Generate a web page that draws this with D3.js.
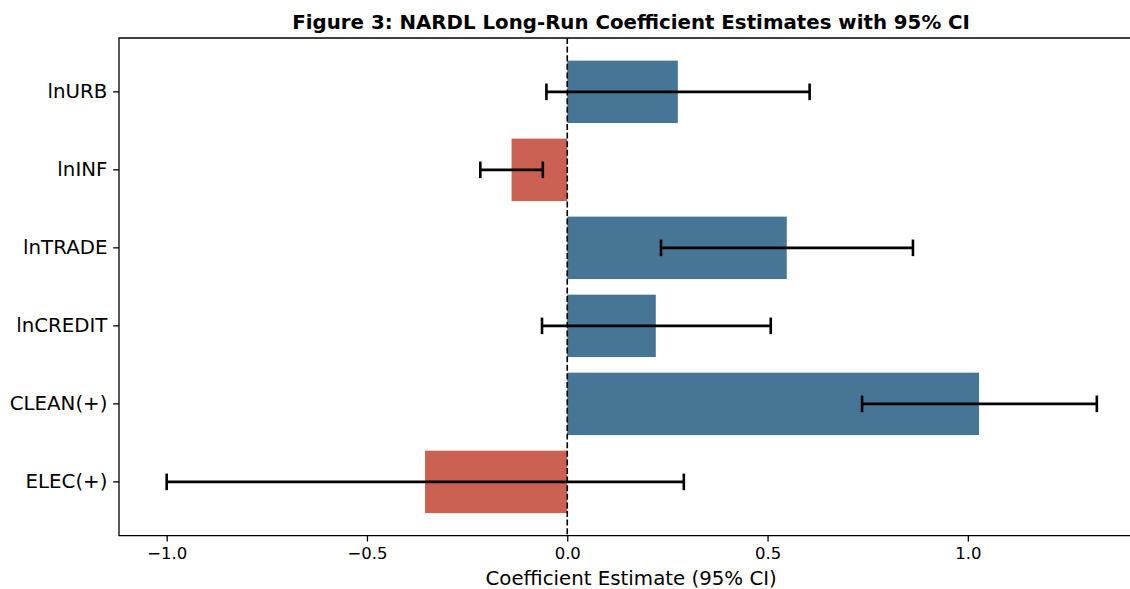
<!DOCTYPE html>
<html>
<head>
<meta charset="utf-8">
<script src="https://cdn.jsdelivr.net/npm/d3@7"></script>
<style>
  body { margin: 0; background: #fff; overflow: hidden; }
  svg { display: block; font-family: "DejaVu Sans", sans-serif; }
</style>
</head>
<body>
<div id="chart"></div>
<script>
// Long-run coefficients with 95% CI
const variables = ["lnURB", "lnINF", "lnTRADE", "lnCREDIT", "CLEAN(+)", "ELEC(+)"];
const estimates = [0.276, -0.139, 0.548, 0.221, 1.028, -0.355];
const ciLower = [-0.052, -0.217, 0.234, -0.063, 0.736, -1.0];
const ciUpper = [0.605, -0.061, 0.863, 0.508, 1.322, 0.291];
const xTicks = [-1.0, -0.5, 0.0, 0.5, 1.0];

const width = 1130, height = 589;
const plot = { left: 119, top: 38, right: 1143.3, bottom: 535.7 };

const posColor = "#477596";
const negColor = "#cb6153";

const svg = d3.select("#chart").append("svg")
    .attr("width", width)
    .attr("height", height);

const x = d3.scaleLinear()
    .domain([-1.119, 1.438])
    .range([plot.left, plot.right]);

const y = d3.scaleBand()
    .domain(variables)
    .range([plot.top, plot.bottom])
    .paddingInner(0.2)
    .paddingOuter(0.29);

const rows = variables.map((v, i) => ({
    name: v, est: estimates[i], lo: ciLower[i], hi: ciUpper[i]
}));

// Bars
svg.append("g").selectAll("rect")
    .data(rows)
    .enter()
    .append("rect")
    .attr("x", d => x(Math.min(0, d.est)))
    .attr("width", d => Math.abs(x(d.est) - x(0)))
    .attr("y", d => y(d.name))
    .attr("height", y.bandwidth())
    .attr("fill", d => d.est >= 0 ? posColor : negColor);

// Zero reference line
svg.append("line")
    .attr("x1", x(0)).attr("x2", x(0))
    .attr("y1", plot.top).attr("y2", plot.bottom)
    .attr("stroke", "#000")
    .attr("stroke-width", 1.6)
    .attr("stroke-dasharray", "6,2.6");

// Error bars
const capHalf = 8.3;
const err = svg.append("g")
    .attr("stroke", "#000")
    .attr("stroke-width", 2.6)
    .selectAll("g")
    .data(rows)
    .enter()
    .append("g");

err.append("line")
    .attr("x1", d => x(d.lo)).attr("x2", d => x(d.hi))
    .attr("y1", d => y(d.name) + y.bandwidth() / 2)
    .attr("y2", d => y(d.name) + y.bandwidth() / 2);

err.selectAll(".cap")
    .data(d => [[d.lo, d.name], [d.hi, d.name]])
    .enter()
    .append("line")
    .attr("class", "cap")
    .attr("x1", d => x(d[0])).attr("x2", d => x(d[0]))
    .attr("y1", d => y(d[1]) + y.bandwidth() / 2 - capHalf)
    .attr("y2", d => y(d[1]) + y.bandwidth() / 2 + capHalf);

// Spines (right spine falls outside the picture)
const spine = svg.append("g")
    .attr("stroke", "#000")
    .attr("stroke-width", 1.3)
    .attr("fill", "none");
spine.append("path")
    .attr("d", `M${plot.right},${plot.top}H${plot.left}V${plot.bottom}H${plot.right}`);

// X axis
const xAxis = svg.append("g")
    .attr("transform", `translate(0,${plot.bottom})`)
    .call(d3.axisBottom(x)
        .tickValues(xTicks)
        .tickSize(5.8)
        .tickPadding(5.8)
        .tickFormat(d => d3.format(".1f")(d).replace("-", "\u2212")));
xAxis.select(".domain").remove();
xAxis.selectAll(".tick line").attr("stroke", "#000").attr("stroke-width", 1.3);
xAxis.selectAll(".tick text")
    .attr("fill", "#000")
    .attr("font-size", "16.5px")
    .attr("font-family", "DejaVu Sans, sans-serif");

// Y axis
const yAxis = svg.append("g")
    .attr("transform", `translate(${plot.left},0)`)
    .call(d3.axisLeft(y).tickSize(5.8).tickPadding(5.8));
yAxis.select(".domain").remove();
yAxis.selectAll(".tick line").attr("stroke", "#000").attr("stroke-width", 1.3);
yAxis.selectAll(".tick text")
    .attr("fill", "#000")
    .attr("font-size", "19.8px")
    .attr("font-family", "DejaVu Sans, sans-serif");

// X label
svg.append("text")
    .attr("x", (plot.left + plot.right) / 2)
    .attr("y", 584.5)
    .attr("text-anchor", "middle")
    .attr("font-size", "19.8px")
    .text("Coefficient Estimate (95% CI)");

// Title
svg.append("text")
    .attr("x", (plot.left + plot.right) / 2)
    .attr("y", 28.5)
    .attr("text-anchor", "middle")
    .attr("font-size", "19.8px")
    .attr("font-weight", "bold")
    .text("Figure 3: NARDL Long-Run Coefficient Estimates with 95% CI");
</script>
</body>
</html>
